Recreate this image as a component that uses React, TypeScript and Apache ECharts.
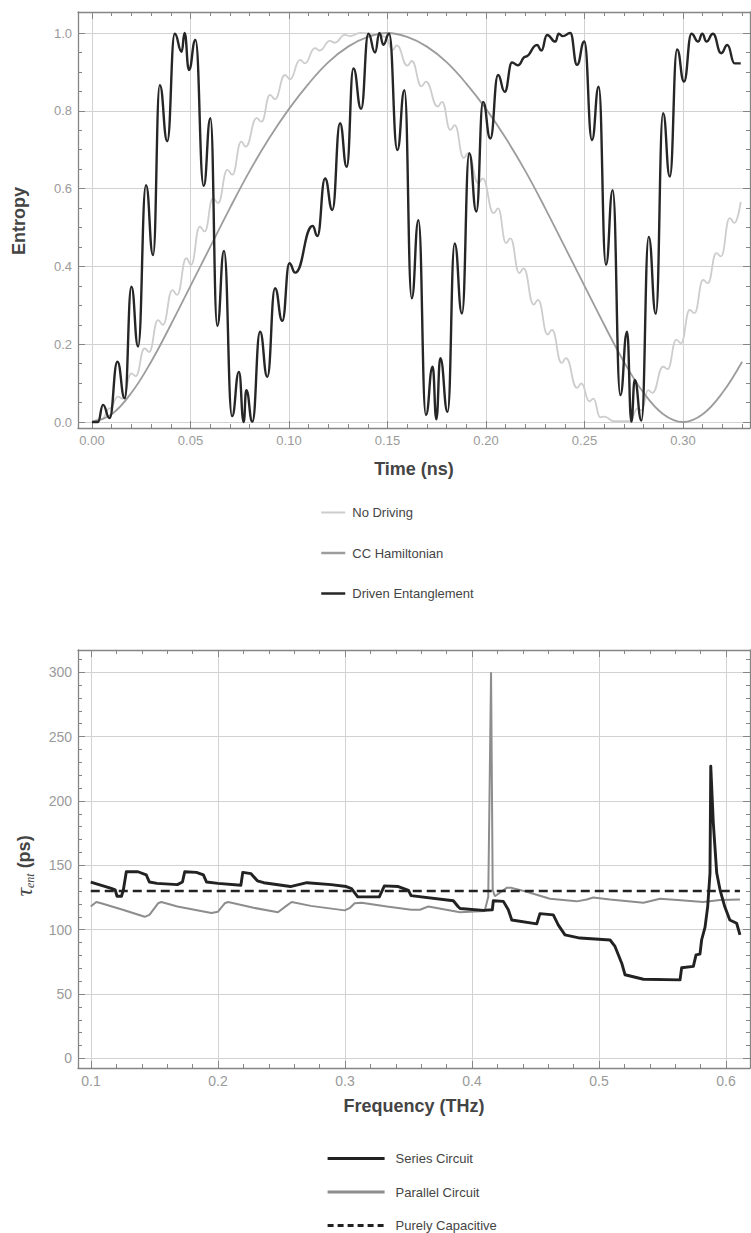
import React, { useEffect, useRef } from 'react';
import * as echarts from 'echarts';

// ---------- Top chart data (Time in ns, Entropy) ----------
const timeTicks = [0, 0.05, 0.1, 0.15, 0.2, 0.25, 0.3];
const timeMinorTicks = [0, 0.01, 0.02, 0.03, 0.04, 0.05, 0.06, 0.07, 0.08, 0.09, 0.1, 0.11, 0.12, 0.13, 0.14, 0.15, 0.16, 0.17, 0.18, 0.19, 0.2, 0.21, 0.22, 0.23, 0.24, 0.25, 0.26, 0.27, 0.28, 0.29, 0.3, 0.31, 0.32, 0.33];
const entropyTicks = [0, 0.2, 0.4, 0.6, 0.8, 1.0];
const entropyMinorTicks = [0, 0.05, 0.1, 0.15, 0.2, 0.25, 0.3, 0.35, 0.4, 0.45, 0.5, 0.55, 0.6, 0.65, 0.7, 0.75, 0.8, 0.85, 0.9, 0.95, 1.0];

const noDriving: [number, number][] = [
  [0.0, 0.0], [0.005, 0.008], [0.009, 0.035],
  [0.0132, 0.065], [0.0155, 0.06], [0.02, 0.125], [0.0222, 0.118],
  [0.0267, 0.189], [0.029, 0.18], [0.0335, 0.262], [0.036, 0.25],
  [0.0408, 0.339], [0.0432, 0.327], [0.0479, 0.421], [0.0503, 0.404],
  [0.0547, 0.502], [0.0572, 0.49], [0.0614, 0.575], [0.064, 0.563],
  [0.0687, 0.648], [0.0712, 0.636], [0.0758, 0.721], [0.078, 0.708],
  [0.0836, 0.781], [0.086, 0.772], [0.0904, 0.841], [0.0928, 0.83],
  [0.098, 0.892], [0.1005, 0.881], [0.1056, 0.931], [0.108, 0.922],
  [0.1132, 0.961], [0.1156, 0.955], [0.1208, 0.98], [0.1232, 0.975],
  [0.1284, 0.995], [0.131, 0.992], [0.1361, 1.0], [0.144, 0.998], [0.149, 0.99],
  [0.1525, 0.956], [0.1547, 0.968], [0.1601, 0.916], [0.1623, 0.928],
  [0.1673, 0.863], [0.1695, 0.875], [0.1755, 0.811], [0.1777, 0.823],
  [0.1819, 0.751], [0.1841, 0.763], [0.1887, 0.679], [0.1909, 0.691],
  [0.1961, 0.614], [0.1983, 0.626], [0.2039, 0.537], [0.2061, 0.549],
  [0.2102, 0.46], [0.2124, 0.472], [0.2169, 0.383], [0.2191, 0.395],
  [0.2242, 0.302], [0.2264, 0.314], [0.2313, 0.225], [0.2335, 0.237],
  [0.2384, 0.152], [0.2406, 0.164], [0.2462, 0.088], [0.2484, 0.099],
  [0.2525, 0.053], [0.2545, 0.06], [0.258, 0.012], [0.26, 0.014],
  [0.265, 0.002], [0.273, 0.002],
  [0.277, 0.035], [0.279, 0.03], [0.2823, 0.082], [0.2845, 0.075],
  [0.2899, 0.142], [0.2922, 0.136], [0.2966, 0.211], [0.299, 0.203],
  [0.3034, 0.288], [0.3058, 0.28], [0.3102, 0.365], [0.3126, 0.357],
  [0.3169, 0.434], [0.3193, 0.426], [0.3237, 0.524], [0.3261, 0.512],
  [0.3293, 0.566],
];

const ccHamiltonian: [number, number][] = [
  [0.0, 0.0], [0.01, 0.02], [0.02, 0.075], [0.03, 0.155], [0.04, 0.25],
  [0.05, 0.35], [0.06, 0.45], [0.07, 0.55], [0.08, 0.645], [0.09, 0.73],
  [0.1, 0.805], [0.11, 0.87], [0.12, 0.925], [0.13, 0.965], [0.14, 0.99],
  [0.15, 1.0], [0.16, 0.99], [0.17, 0.965], [0.18, 0.925], [0.19, 0.87],
  [0.2, 0.805], [0.21, 0.73], [0.22, 0.645], [0.23, 0.55], [0.24, 0.45],
  [0.25, 0.35], [0.26, 0.25], [0.27, 0.155], [0.28, 0.075], [0.29, 0.02],
  [0.3, 0.0], [0.31, 0.02], [0.32, 0.075], [0.33, 0.155],
];

const drivenEntanglement: [number, number][] = [
  [0.0, 0.0], [0.003, 0.0], [0.0056, 0.044], [0.0089, 0.01],
  [0.0129, 0.155], [0.0166, 0.061], [0.02, 0.348], [0.0234, 0.194],
  [0.0274, 0.609], [0.031, 0.429], [0.0344, 0.866], [0.0382, 0.722],
  [0.042, 0.998], [0.0455, 0.952], [0.047, 1.0], [0.0492, 0.905],
  [0.0525, 0.982], [0.0567, 0.607], [0.0601, 0.781], [0.0636, 0.247],
  [0.067, 0.44], [0.0711, 0.015], [0.0746, 0.129], [0.077, 0.0],
  [0.0783, 0.082], [0.0814, 0.001], [0.0853, 0.232], [0.089, 0.116],
  [0.0929, 0.344], [0.0966, 0.26], [0.1002, 0.408], [0.1031, 0.384],
  [0.112, 0.504], [0.1144, 0.478], [0.1183, 0.626], [0.122, 0.545],
  [0.1259, 0.768], [0.1293, 0.656], [0.1327, 0.909], [0.1366, 0.805],
  [0.1403, 0.998], [0.1437, 0.95], [0.1459, 1.0], [0.1479, 0.97],
  [0.1508, 0.998], [0.155, 0.699], [0.1586, 0.853], [0.1623, 0.318],
  [0.1657, 0.519], [0.1695, 0.018], [0.1729, 0.142], [0.1748, 0.007],
  [0.1768, 0.164], [0.1805, 0.026], [0.1841, 0.459], [0.1878, 0.279],
  [0.1915, 0.691], [0.1951, 0.541], [0.1985, 0.823], [0.2022, 0.729],
  [0.2061, 0.892], [0.2095, 0.849], [0.2132, 0.924], [0.2162, 0.917],
  [0.22, 0.939], [0.2259, 0.969], [0.2281, 0.955], [0.231, 0.995],
  [0.2352, 0.978], [0.2369, 0.998], [0.239, 0.992], [0.2428, 1.0],
  [0.2462, 0.918], [0.2499, 0.978], [0.2538, 0.725], [0.2572, 0.862],
  [0.2609, 0.404], [0.2643, 0.596], [0.2682, 0.069], [0.2716, 0.232],
  [0.2738, 0.001], [0.2755, 0.108], [0.2789, 0.004], [0.2826, 0.476],
  [0.2862, 0.278], [0.2899, 0.794], [0.2933, 0.631], [0.297, 0.958],
  [0.3005, 0.875], [0.3043, 0.998], [0.3077, 0.978], [0.3098, 0.998],
  [0.3119, 0.978], [0.3152, 0.998], [0.3194, 0.948], [0.3225, 0.969],
  [0.3262, 0.922], [0.3293, 0.922],
];

// ---------- Bottom chart data (Frequency in THz, tau_ent in ps) ----------
const freqTicks = [0.1, 0.2, 0.3, 0.4, 0.5, 0.6];
const freqMinorTicks = [0.1, 0.12, 0.14, 0.16, 0.18, 0.2, 0.22, 0.24, 0.26, 0.28, 0.3, 0.32, 0.34, 0.36, 0.38, 0.4, 0.42, 0.44, 0.46, 0.48, 0.5, 0.52, 0.54, 0.56, 0.58, 0.6];
const tauTicks = [0, 50, 100, 150, 200, 250, 300];
const tauMinorTicks = [0, 10, 20, 30, 40, 50, 60, 70, 80, 90, 100, 110, 120, 130, 140, 150, 160, 170, 180, 190, 200, 210, 220, 230, 240, 250, 260, 270, 280, 290, 300, 310];

const seriesCircuit: [number, number][] = [
  [0.0998, 137], [0.116, 132], [0.119, 131], [0.1205, 126], [0.124, 126],
  [0.1255, 131], [0.1278, 145], [0.137, 145], [0.1435, 142.5], [0.146, 137],
  [0.152, 136], [0.168, 135], [0.172, 137], [0.1738, 145], [0.183, 144.5],
  [0.1885, 142.5], [0.191, 137], [0.2, 136], [0.218, 134.5], [0.2195, 144.5],
  [0.226, 143.5], [0.231, 138], [0.236, 136.5], [0.257, 133.5], [0.27, 136.5],
  [0.289, 135], [0.301, 133.5], [0.305, 132], [0.31, 125.5], [0.327, 125.5],
  [0.331, 134], [0.342, 133.5], [0.35, 130.5], [0.352, 126.5], [0.3853, 122.5],
  [0.389, 118], [0.3906, 116.5], [0.409, 115], [0.416, 115.5], [0.4168, 122.5],
  [0.4247, 122], [0.4286, 115.5], [0.4313, 107.5], [0.451, 104.5], [0.4535, 112.5],
  [0.464, 111.5], [0.468, 103.5], [0.4732, 96], [0.485, 93.5], [0.5087, 92],
  [0.5126, 87], [0.5179, 74], [0.5205, 65], [0.535, 61.5], [0.5638, 61],
  [0.5651, 70.5], [0.5743, 71.5], [0.5764, 80.5], [0.5795, 81], [0.5808, 92],
  [0.5835, 102], [0.5856, 118], [0.5874, 144], [0.588, 227], [0.59, 183],
  [0.5927, 144], [0.5953, 131], [0.599, 118], [0.603, 107.5], [0.6084, 105],
  [0.611, 96],
];

const parallelCircuit: [number, number][] = [
  [0.0998, 118], [0.1042, 121.5], [0.108, 120.5], [0.125, 115.5], [0.1423, 110],
  [0.146, 111.5], [0.1528, 120.5], [0.1554, 121.5], [0.168, 118], [0.1948, 113],
  [0.2, 114], [0.2053, 120.5], [0.208, 121.5], [0.228, 117], [0.2472, 113.5],
  [0.2538, 118.5], [0.258, 121.5], [0.273, 118.5], [0.2998, 115], [0.304, 117],
  [0.3076, 120.5], [0.313, 121], [0.333, 118], [0.3522, 115.5], [0.359, 115.5],
  [0.3656, 118], [0.3906, 113.5], [0.41, 114.5], [0.4128, 125.5], [0.415, 300],
  [0.4163, 131], [0.418, 126], [0.4273, 132.5], [0.4313, 132.5], [0.443, 129.5],
  [0.4614, 124], [0.4824, 122], [0.4903, 123.5], [0.4955, 125], [0.5087, 123.5],
  [0.535, 121], [0.548, 124], [0.5618, 123], [0.5821, 121.5], [0.5953, 123],
  [0.611, 123.5],
];

const purelyCapacitive: [number, number][] = [
  [0.0998, 130], [0.611, 130],
];

const FONT = '"Liberation Sans", Arial, Helvetica, sans-serif';
const AXIS_COLOR = '#858585';
const LABEL_COLOR = '#9a9a9a';
const GRID_COLOR = '#d2d2d2';

function xAxes(grid: number, min: number, max: number, major: number[], minor: number[], fmt: (v: number) => string, fontSize: number) {
  const base = { type: 'value', gridIndex: grid, min, max, splitNumber: 5 };
  const line = { show: true, onZero: false, lineStyle: { color: AXIS_COLOR, width: 1.3 } };
  const noLine = { show: false, onZero: false };
  const tickStyle = { color: AXIS_COLOR, width: 1 };
  return [
    {
      ...base, position: 'bottom', axisLine: line,
      axisTick: { show: true, inside: true, length: 7, customValues: major, lineStyle: tickStyle },
      axisLabel: { show: true, customValues: major, formatter: fmt, color: LABEL_COLOR, fontSize, fontFamily: FONT, margin: 6 },
      splitLine: { show: true, lineStyle: { color: GRID_COLOR, width: 1 } },
    },
    {
      ...base, position: 'bottom', axisLine: noLine,
      axisTick: { show: true, inside: true, length: 4, customValues: minor, lineStyle: tickStyle },
      axisLabel: { show: false }, splitLine: { show: false },
    },
    {
      ...base, position: 'top', axisLine: line,
      axisTick: { show: true, inside: true, length: 7, customValues: major, lineStyle: tickStyle },
      axisLabel: { show: false }, splitLine: { show: false },
    },
    {
      ...base, position: 'top', axisLine: noLine,
      axisTick: { show: true, inside: true, length: 4, customValues: minor, lineStyle: tickStyle },
      axisLabel: { show: false }, splitLine: { show: false },
    },
  ];
}

function yAxes(grid: number, min: number, max: number, major: number[], minor: number[], fmt: (v: number) => string, fontSize: number) {
  const base = { type: 'value', gridIndex: grid, min, max, splitNumber: 5 };
  const line = { show: true, onZero: false, lineStyle: { color: AXIS_COLOR, width: 1.3 } };
  const noLine = { show: false, onZero: false };
  const tickStyle = { color: AXIS_COLOR, width: 1 };
  return [
    {
      ...base, position: 'left', axisLine: line,
      axisTick: { show: true, inside: true, length: 7, customValues: major, lineStyle: tickStyle },
      axisLabel: { show: true, customValues: major, formatter: fmt, color: LABEL_COLOR, fontSize, fontFamily: FONT, margin: 6 },
      splitLine: { show: true, lineStyle: { color: GRID_COLOR, width: 1 } },
    },
    {
      ...base, position: 'left', axisLine: noLine,
      axisTick: { show: true, inside: true, length: 4, customValues: minor, lineStyle: tickStyle },
      axisLabel: { show: false }, splitLine: { show: false },
    },
    {
      ...base, position: 'right', axisLine: line,
      axisTick: { show: true, inside: true, length: 7, customValues: major, lineStyle: tickStyle },
      axisLabel: { show: false }, splitLine: { show: false },
    },
    {
      ...base, position: 'right', axisLine: noLine,
      axisTick: { show: true, inside: true, length: 4, customValues: minor, lineStyle: tickStyle },
      axisLabel: { show: false }, splitLine: { show: false },
    },
  ];
}

const hiddenSymbol = { opacity: 0 };

export default function App() {
  const ref = useRef<HTMLDivElement>(null);

  useEffect(() => {
    if (!ref.current) return;
    const chart = echarts.init(ref.current, null, { renderer: 'svg' });

    const option: any = {
      animation: false,
      backgroundColor: '#ffffff',
      textStyle: { fontFamily: FONT },
      grid: [
        { left: 78, top: 12, width: 672, height: 416 },
        { left: 78, top: 650, width: 672, height: 418 },
      ],
      xAxis: [
        ...xAxes(0, -0.00711, 0.33401, timeTicks, timeMinorTicks, (v: number) => v.toFixed(2), 13),
        ...xAxes(1, 0.08976, 0.6189, freqTicks, freqMinorTicks, (v: number) => v.toFixed(1), 14),
      ],
      yAxis: [
        ...yAxes(0, -0.0154, 1.054, entropyTicks, entropyMinorTicks, (v: number) => v.toFixed(1), 13),
        ...yAxes(1, -7.4, 317.2, tauTicks, tauMinorTicks, (v: number) => String(Math.round(v)), 14),
      ],
      legend: [
        {
          data: [
            { name: 'No Driving', lineStyle: { width: 2 }, itemStyle: hiddenSymbol },
            { name: 'CC Hamiltonian', lineStyle: { width: 2.5 }, itemStyle: hiddenSymbol },
            { name: 'Driven Entanglement', lineStyle: { width: 2.5 }, itemStyle: hiddenSymbol },
          ],
          orient: 'vertical', left: 320, top: 506, height: 110, padding: 0,
          itemWidth: 24, itemHeight: 14, itemGap: 27.5,
          selectedMode: false,
          textStyle: { fontSize: 13, color: '#444', fontFamily: FONT, padding: [0, 0, 0, 2] },
        },
        {
          data: [
            { name: 'Series Circuit', lineStyle: { width: 3.2 }, itemStyle: hiddenSymbol },
            { name: 'Parallel Circuit', lineStyle: { width: 3.2 }, itemStyle: hiddenSymbol },
            { name: 'Purely Capacitive', lineStyle: { width: 3, type: [6, 4] }, itemStyle: hiddenSymbol },
          ],
          orient: 'vertical', left: 326, top: 1152, height: 100, padding: 0,
          itemWidth: 57, itemHeight: 14, itemGap: 20.5,
          selectedMode: false,
          textStyle: { fontSize: 13, color: '#444', fontFamily: FONT, padding: [0, 0, 0, 6] },
        },
      ],
      series: [
        {
          name: 'No Driving', type: 'line', xAxisIndex: 0, yAxisIndex: 0, data: noDriving,
          symbol: 'none', smooth: 0.5, smoothMonotone: 'x',
          lineStyle: { color: '#cdcdcd', width: 1.8 }, itemStyle: { color: '#cdcdcd' },
        },
        {
          name: 'CC Hamiltonian', type: 'line', xAxisIndex: 0, yAxisIndex: 0, data: ccHamiltonian,
          symbol: 'none', smooth: 0.4,
          lineStyle: { color: '#9c9c9c', width: 1.8 }, itemStyle: { color: '#9c9c9c' },
        },
        {
          name: 'Driven Entanglement', type: 'line', xAxisIndex: 0, yAxisIndex: 0, data: drivenEntanglement,
          symbol: 'none', smooth: 0.5, smoothMonotone: 'x',
          lineStyle: { color: '#262626', width: 2.4 }, itemStyle: { color: '#262626' },
        },
        {
          name: 'Parallel Circuit', type: 'line', xAxisIndex: 4, yAxisIndex: 4, data: parallelCircuit,
          symbol: 'none', smooth: false,
          lineStyle: { color: '#8d8d8d', width: 2 }, itemStyle: { color: '#8d8d8d' },
        },
        {
          name: 'Series Circuit', type: 'line', xAxisIndex: 4, yAxisIndex: 4, data: seriesCircuit,
          symbol: 'none', smooth: false,
          lineStyle: { color: '#222222', width: 2.9, join: 'round' }, itemStyle: { color: '#222222' },
        },
        {
          name: 'Purely Capacitive', type: 'line', xAxisIndex: 4, yAxisIndex: 4, data: purelyCapacitive,
          symbol: 'none',
          lineStyle: { color: '#222222', width: 2.6, type: [9, 5] }, itemStyle: { color: '#222222' },
        },
      ],
      graphic: [
        {
          type: 'text', x: 19, y: 221, rotation: Math.PI / 2,
          style: { text: 'Entropy', fill: '#444', font: `bold 18px ${FONT}`, align: 'center', verticalAlign: 'middle' },
        },
        {
          type: 'text', x: 414, y: 469,
          style: { text: 'Time (ns)', fill: '#444', font: `bold 18px ${FONT}`, align: 'center', verticalAlign: 'middle' },
        },
        {
          type: 'text', x: 414, y: 1106,
          style: { text: 'Frequency (THz)', fill: '#444', font: `bold 18px ${FONT}`, align: 'center', verticalAlign: 'middle' },
        },
        {
          type: 'text', x: 24, y: 866, rotation: Math.PI / 2,
          style: {
            text: '{t|τ}{s|ent}{b| (ps)}', fill: '#444', align: 'center', verticalAlign: 'middle',
            rich: {
              t: { fontFamily: '"Liberation Serif", "DejaVu Serif", serif', fontStyle: 'italic', fontSize: 24, fill: '#444', verticalAlign: 'middle' },
              s: { fontFamily: '"Liberation Serif", "DejaVu Serif", serif', fontStyle: 'italic', fontSize: 12, fill: '#444', verticalAlign: 'bottom' },
              b: { fontFamily: FONT, fontWeight: 'bold', fontSize: 18, fill: '#444', verticalAlign: 'middle' },
            },
          },
        },
      ],
    };

    chart.setOption(option);
    return () => chart.dispose();
  }, []);

  return (
    <div
      ref={ref}
      style={{ position: 'absolute', left: 0, top: 0, width: 751, height: 1233, background: '#fff' }}
    />
  );
}
